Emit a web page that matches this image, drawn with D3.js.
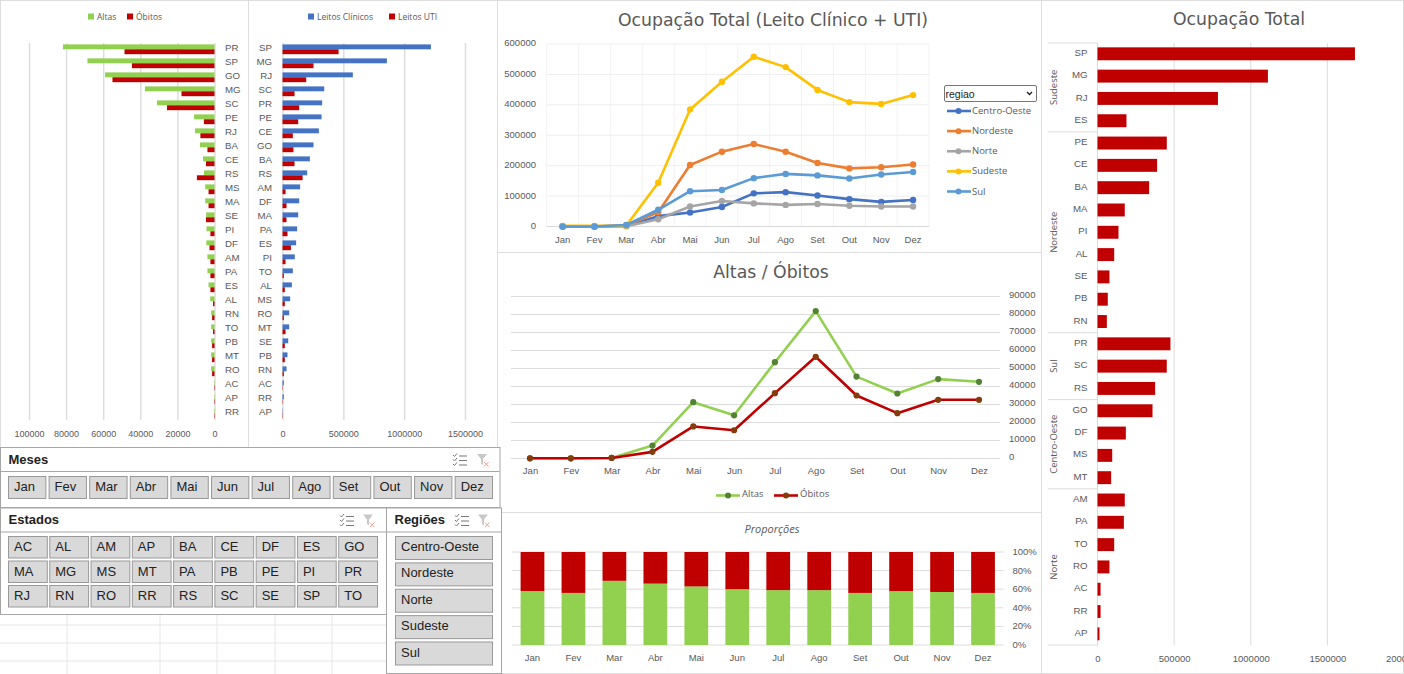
<!DOCTYPE html>
<html>
<head>
<meta charset="utf-8">
<script src="https://cdn.jsdelivr.net/npm/d3@7"></script>
<style>
    html, body { margin: 0; padding: 0; background: #fff; overflow: hidden; }
    #wrap { position: relative; width: 1404px; height: 674px; }
    svg { position: absolute; left: 0; top: 0; font-family: "Open Sans", sans-serif; }
    select {
        position: absolute; left: 943.5px; top: 85px; width: 93px; height: 17px; box-sizing: border-box;
        font: 10.5px "Liberation Sans", sans-serif; color: #222; padding: 0 0 0 1px; border: 1px solid #767676; border-radius: 2px;
        appearance: none; background: #fff url("data:image/svg+xml,%3Csvg xmlns='http://www.w3.org/2000/svg' width='7' height='5'%3E%3Cpath d='M1 1l2.5 2.5L6 1' fill='none' stroke='%23222' stroke-width='1.4'/%3E%3C/svg%3E") no-repeat right 3px center;
    }
    .domain { display: none; }
</style>
</head>
<body>
<div id="wrap"><svg id="chart" width="1404" height="674"></svg></div>
<script>
const meses = ["Jan", "Fev", "Mar", "Abr", "Mai", "Jun", "Jul", "Ago", "Set", "Out", "Nov", "Dez"];

// altas / obitos por estado
const estadosAltas = ["PR", "SP", "GO", "MG", "SC", "PE", "RJ", "BA", "CE", "RS", "MS", "MA", "SE", "PI", "DF", "AM", "PA", "ES", "AL", "RN", "TO", "PB", "MT", "RO", "AC", "AP", "RR"];
const altasEstado = [81700, 68500, 59000, 37500, 31000, 11000, 10500, 7800, 6200, 5700, 5000, 5000, 4500, 4300, 4400, 3800, 3800, 3200, 2300, 1800, 1800, 1800, 1800, 1800, 300, 300, 300];
const obitosEstado = [48500, 44500, 55000, 17800, 25600, 5700, 7600, 3800, 4600, 9500, 3200, 3200, 4600, 2200, 2700, 2200, 2200, 2200, 800, 1300, 800, 1300, 1300, 1300, 250, 250, 250];

// leitos por estado
const estadosLeitos = ["SP", "MG", "RJ", "SC", "PR", "PE", "CE", "GO", "BA", "RS", "AM", "DF", "MA", "PA", "ES", "PI", "TO", "AL", "MS", "RO", "MT", "SE", "PB", "RN", "AC", "RR", "AP"];
const leitosClinicos = [1220000, 858000, 578000, 343000, 326000, 321000, 299000, 255000, 225000, 203000, 145000, 137000, 129000, 120000, 112000, 101000, 85000, 77000, 63000, 55000, 55000, 47000, 41000, 33000, 11000, 11000, 3000];
const leitosUti = [461000, 255000, 195000, 99000, 137000, 129000, 85000, 90000, 99000, 165000, 25000, 33000, 33000, 41000, 69000, 25000, 11000, 19000, 19000, 11000, 25000, 19000, 19000, 11000, 3000, 3000, 3000];

// ocupacao mensal por regiao
const regioes = ["Centro-Oeste", "Nordeste", "Norte", "Sudeste", "Sul"];
const coresRegioes = ["#4472c4", "#ed7d31", "#a5a5a5", "#ffc000", "#5b9bd5"];
const centroOeste = [0, 0, 2000, 34000, 46000, 64000, 109000, 113000, 102000, 90000, 81000, 87000];
const nordeste = [0, 0, 4000, 47000, 202000, 246000, 271000, 246000, 209000, 191000, 195000, 204000];
const norte = [0, 0, 1000, 24000, 66000, 84000, 76000, 71000, 74000, 68000, 66000, 66000];
const sudeste = [2000, 2000, 3000, 144000, 385000, 476000, 558000, 524000, 449000, 409000, 403000, 432000];
const sul = [0, 0, 5000, 55000, 116000, 120000, 159000, 173000, 168000, 158000, 171000, 179000];

// altas / obitos por mes
const altasMes = [100, 100, 300, 7200, 31300, 24000, 53500, 81900, 45500, 36100, 44100, 42600];
const obitosMes = [100, 100, 300, 3700, 17800, 15700, 36300, 56500, 35000, 25200, 32600, 32600];

// proporcoes
const propAltas = [58, 56, 69, 66, 63, 60, 59, 59, 56, 58, 57, 56];
const propObitos = [42, 44, 31, 34, 37, 40, 41, 41, 44, 42, 43, 44];

// ocupacao total por estado, agrupada por regiao
const grupos = ["Sudeste", "Nordeste", "Sul", "Centro-Oeste", "Norte"];
const gruposEstados = [["SP", "MG", "RJ", "ES"], ["PE", "CE", "BA", "MA", "PI", "AL", "SE", "PB", "RN"], ["PR", "SC", "RS"], ["GO", "DF", "MS", "MT"], ["AM", "PA", "TO", "RO", "AC", "RR", "AP"]];
const ocupacaoEstado = [1680000, 1112000, 786000, 189000, 452000, 389000, 337000, 178000, 137000, 109000, 78000, 67000, 61000, 476000, 452000, 376000, 359000, 185000, 96000, 89000, 178000, 172000, 109000, 78000, 20000, 20000, 13000];

const estadosSlicer = ["AC", "AL", "AM", "AP", "BA", "CE", "DF", "ES", "GO", "MA", "MG", "MS", "MT", "PA", "PB", "PE", "PI", "PR", "RJ", "RN", "RO", "RR", "RS", "SC", "SE", "SP", "TO"];

const textColor = "#595959";
const gridColor = "#dcdcdc";
const verde = "#92d050";
const vermelho = "#c00000";
const azul = "#4472c4";

const svg = d3.select("#chart");

// moldura dos paineis
[[0.5, 0.5, 248, 447], [248.5, 0.5, 249, 447], [497.5, 0.5, 544, 252], [497.5, 252.5, 544, 260], [497.5, 512.5, 544, 161], [1041.5, 0.5, 362, 673]].forEach((p) => {
    svg.append("rect").attr("x", p[0]).attr("y", p[1]).attr("width", p[2]).attr("height", p[3])
        .attr("fill", "#fff").attr("stroke", "#dedede");
});

function styleAxis(g, size) {
    g.selectAll("text").style("font-size", size + "px").attr("fill", textColor);
    g.selectAll("line").remove();
}

function legendSquare(x, y, color, label) {
    svg.append("rect").attr("x", x).attr("y", y - 3).attr("width", 6).attr("height", 6).attr("fill", color);
    svg.append("text").attr("x", x + 9).attr("y", y + 3).attr("fill", textColor).style("font-size", "8.5px").text(label);
}

// --- grafico horizontal duplo, usado nos dois paineis da esquerda
function doubleBars(cats, a, b, colorA, colorB, xScale, ticks, tickFormat) {
    const y = d3.scaleBand().domain(cats).range([42.3, 420.3]).paddingInner(0.3).paddingOuter(0.15);
    const y1 = d3.scaleBand().domain([0, 1]).range([0, y.bandwidth()]);

    svg.append("g").selectAll("line").data(ticks).enter().append("line")
        .attr("x1", (d) => xScale(d) + 0.5).attr("x2", (d) => xScale(d) + 0.5)
        .attr("y1", 43).attr("y2", 420)
        .attr("stroke", gridColor).attr("stroke-width", 1.4);

    [a, b].forEach((vals, i) => {
        svg.append("g").selectAll("rect").data(vals).enter().append("rect")
            .attr("x", (d) => Math.min(xScale(d), xScale(0)))
            .attr("y", (d, j) => y(cats[j]) + y1(i))
            .attr("width", (d) => Math.abs(xScale(d) - xScale(0)))
            .attr("height", y1.bandwidth())
            .attr("fill", i === 0 ? colorA : colorB);
    });

    const gx = svg.append("g").attr("transform", "translate(0,428)")
        .call(d3.axisBottom(xScale).tickValues(ticks).tickFormat(tickFormat).tickSize(0));
    styleAxis(gx, 9);
    return y;
}

// altas x obitos
const xAltas = d3.scaleLinear().domain([0, 100000]).range([214.5, 29]);
const yAltas = doubleBars(estadosAltas, altasEstado, obitosEstado, verde, vermelho, xAltas, [0, 20000, 40000, 60000, 80000, 100000], d3.format("d"));
const gAltas = svg.append("g").attr("transform", "translate(225,-1)")
    .call(d3.axisRight(yAltas).tickSize(0).tickPadding(0));
styleAxis(gAltas, 9.7);
legendSquare(88, 16.5, verde, "Altas");
legendSquare(127, 16.5, vermelho, "Óbitos");

// leitos
const xLeitos = d3.scaleLinear().domain([0, 1500000]).range([282.5, 465]);
const yLeitos = doubleBars(estadosLeitos, leitosClinicos, leitosUti, azul, vermelho, xLeitos, [0, 500000, 1000000, 1500000], d3.format("d"));
const gLeitos = svg.append("g").attr("transform", "translate(272,-1)")
    .call(d3.axisLeft(yLeitos).tickSize(0).tickPadding(0));
styleAxis(gLeitos, 9.7);
legendSquare(308, 16.5, azul, "Leitos Clínicos");
legendSquare(389, 16.5, vermelho, "Leitos UTI");

// --- ocupacao total por regiao (linhas)
svg.append("text").attr("x", 773).attr("y", 26).attr("text-anchor", "middle").attr("fill", textColor)
    .style("font-family", "DejaVu Sans").style("font-size", "17.3px").text("Ocupação Total (Leito Clínico + UTI)");

const xOcup = d3.scaleBand().domain(meses).range([546.7, 929]);
const yOcup = d3.scaleLinear().domain([0, 600000]).range([226.5, 44]);

svg.append("g").selectAll("line").data(d3.range(0, 13)).enter().append("line")
    .attr("x1", (d) => 546.7 + d * xOcup.step()).attr("x2", (d) => 546.7 + d * xOcup.step())
    .attr("y1", 44).attr("y2", 226.5).attr("stroke", "#f3f3f3");
svg.append("g").selectAll("line").data(yOcup.ticks(6)).enter().append("line")
    .attr("x1", 546.7).attr("x2", 929)
    .attr("y1", (d) => yOcup(d)).attr("y2", (d) => yOcup(d))
    .attr("stroke", (d) => d === 0 ? "#d9d9d9" : "#eeeeee");

const gOcupY = svg.append("g").attr("transform", "translate(536,1)")
    .call(d3.axisLeft(yOcup).ticks(6).tickFormat(d3.format("d")).tickSize(0).tickPadding(0));
styleAxis(gOcupY, 9.5);
gOcupY.selectAll("text").attr("dy", "0.1em");
const gOcupX = svg.append("g").attr("transform", "translate(0,236)")
    .call(d3.axisBottom(xOcup).tickSize(0).tickPadding(0));
styleAxis(gOcupX, 9.5);

const lineOcup = d3.line().x((d, i) => xOcup(meses[i]) + xOcup.bandwidth() / 2).y((d) => yOcup(d));
[centroOeste, nordeste, norte, sudeste, sul].forEach((serie, i) => {
    svg.append("path").attr("d", lineOcup(serie)).attr("fill", "none")
        .attr("stroke", coresRegioes[i]).attr("stroke-width", 2.6).attr("stroke-linejoin", "round");
    svg.append("g").selectAll("circle").data(serie).enter().append("circle")
        .attr("cx", (d, j) => xOcup(meses[j]) + xOcup.bandwidth() / 2)
        .attr("cy", (d) => yOcup(d)).attr("r", 3.2).attr("fill", coresRegioes[i]);
});

// legenda das regioes
const legendaY = d3.scalePoint().domain(regioes).range([111, 191.5]);
regioes.forEach((r, i) => {
    const ly = legendaY(r);
    svg.append("line").attr("x1", 947).attr("x2", 971).attr("y1", ly).attr("y2", ly)
        .attr("stroke", coresRegioes[i]).attr("stroke-width", 2.6);
    svg.append("circle").attr("cx", 958.5).attr("cy", ly).attr("r", 3).attr("fill", coresRegioes[i]);
    svg.append("text").attr("x", 972).attr("y", ly + 3).attr("fill", textColor).style("font-size", "9.5px").text(r);
});

d3.select("#wrap").append("select").append("option").text("regiao");

// --- altas / obitos por mes
svg.append("text").attr("x", 771).attr("y", 278).attr("text-anchor", "middle").attr("fill", textColor)
    .style("font-family", "DejaVu Sans").style("font-size", "17.3px").text("Altas / Óbitos");

const xMes = d3.scalePoint().domain(meses).range([530, 979]);
const yMes = d3.scaleLinear().domain([0, 90000]).range([458.5, 296.5]);

svg.append("g").selectAll("line").data(yMes.ticks(9)).enter().append("line")
    .attr("x1", 511).attr("x2", 1000)
    .attr("y1", (d) => yMes(d)).attr("y2", (d) => yMes(d))
    .attr("stroke", gridColor);

const gMesY = svg.append("g").attr("transform", "translate(1009,0)")
    .call(d3.axisRight(yMes).ticks(9).tickFormat(d3.format("d")).tickSize(0).tickPadding(0));
styleAxis(gMesY, 9.5);
gMesY.selectAll("text").attr("dy", "0.1em");
const gMesX = svg.append("g").attr("transform", "translate(0,467)")
    .call(d3.axisBottom(xMes).tickSize(0).tickPadding(0));
styleAxis(gMesX, 9.5);

const lineMes = d3.line().x((d, i) => xMes(meses[i])).y((d) => yMes(d));
[[altasMes, verde, "#548235"], [obitosMes, vermelho, "#843c0c"]].forEach((s) => {
    svg.append("path").attr("d", lineMes(s[0])).attr("fill", "none")
        .attr("stroke", s[1]).attr("stroke-width", 2.6).attr("stroke-linejoin", "round");
    svg.append("g").selectAll("circle").data(s[0]).enter().append("circle")
        .attr("cx", (d, j) => xMes(meses[j])).attr("cy", (d) => yMes(d))
        .attr("r", 3.1).attr("fill", s[2]);
});

[[716, "Altas", verde, "#548235"], [774, "Óbitos", vermelho, "#843c0c"]].forEach((l) => {
    svg.append("line").attr("x1", l[0]).attr("x2", l[0] + 24).attr("y1", 495.5).attr("y2", 495.5)
        .attr("stroke", l[2]).attr("stroke-width", 2.6);
    svg.append("circle").attr("cx", l[0] + 12).attr("cy", 495.5).attr("r", 3).attr("fill", l[3]);
    svg.append("text").attr("x", l[0] + 26).attr("y", 497).attr("fill", textColor).style("font-size", "9.5px").text(l[1]);
});

// --- proporcoes
svg.append("text").attr("x", 772).attr("y", 533).attr("text-anchor", "middle").attr("fill", textColor)
    .style("font-size", "11px").style("font-style", "italic").text("Proporções");

const xProp = d3.scaleBand().domain(meses).range([512, 1003.5]).paddingInner(0.42).paddingOuter(0.21);
const yProp = d3.scaleLinear().domain([0, 100]).range([645, 552]);

svg.append("g").selectAll("line").data(yProp.ticks(5)).enter().append("line")
    .attr("x1", 512).attr("x2", 1003.5)
    .attr("y1", (d) => yProp(d)).attr("y2", (d) => yProp(d))
    .attr("stroke", gridColor);

const tabelaProp = meses.map((m, i) => ({ mes: m, altas: propAltas[i], obitos: propObitos[i] }));
const stackProp = d3.stack().keys(["altas", "obitos"])(tabelaProp);
stackProp.forEach((camada, i) => {
    svg.append("g").selectAll("rect").data(camada).enter().append("rect")
        .attr("x", (d) => xProp(d.data.mes))
        .attr("y", (d) => yProp(d[1]))
        .attr("width", xProp.bandwidth())
        .attr("height", (d) => yProp(d[0]) - yProp(d[1]))
        .attr("fill", i === 0 ? verde : vermelho);
});

const gPropY = svg.append("g").attr("transform", "translate(1012.5,1.5)")
    .call(d3.axisRight(yProp).ticks(5).tickFormat((d) => d + "%").tickSize(0).tickPadding(0));
styleAxis(gPropY, 9.5);
gPropY.selectAll("text").attr("dy", "0.1em");
const gPropX = svg.append("g").attr("transform", "translate(0,654.5)")
    .call(d3.axisBottom(xProp).tickSize(0).tickPadding(0));
styleAxis(gPropX, 9.5);

// --- ocupacao total por estado
svg.append("text").attr("x", 1239).attr("y", 24.5).attr("text-anchor", "middle").attr("fill", textColor)
    .style("font-family", "DejaVu Sans").style("font-size", "17.3px").text("Ocupação Total");

const estadosTotal = gruposEstados.flat();
const xTotal = d3.scaleLinear().domain([0, 2000000]).range([1097.5, 1404]);
const yTotal = d3.scaleBand().domain(estadosTotal).range([42.65, 645]).paddingInner(0.42).paddingOuter(0.21);

svg.append("g").selectAll("line").data(xTotal.ticks(4)).enter().append("line")
    .attr("x1", (d) => xTotal(d)).attr("x2", (d) => xTotal(d))
    .attr("y1", 43).attr("y2", 645.5).attr("stroke", gridColor);

svg.append("g").selectAll("rect").data(ocupacaoEstado).enter().append("rect")
    .attr("x", xTotal(0))
    .attr("y", (d, i) => yTotal(estadosTotal[i]))
    .attr("width", (d) => xTotal(d) - xTotal(0))
    .attr("height", yTotal.bandwidth())
    .attr("fill", vermelho);

const gTotalY = svg.append("g").attr("transform", "translate(1087.5,-1)")
    .call(d3.axisLeft(yTotal).tickSize(0).tickPadding(0));
styleAxis(gTotalY, 9.7);
const gTotalX = svg.append("g").attr("transform", "translate(0,655)")
    .call(d3.axisBottom(xTotal).ticks(4).tickFormat(d3.format("d")).tickSize(0).tickPadding(0));
styleAxis(gTotalX, 9.5);

// grupos de regiao: separadores e rotulos giratorios
let acumulado = 0;
const stepTotal = yTotal.step();
svg.append("line").attr("x1", 1048).attr("x2", 1097.5).attr("y1", 43).attr("y2", 43).attr("stroke", gridColor);
grupos.forEach((g, i) => {
    const n = gruposEstados[i].length;
    const topo = 42.65 + acumulado * stepTotal;
    const base = 42.65 + (acumulado + n) * stepTotal;
    svg.append("line").attr("x1", 1048).attr("x2", 1097.5).attr("y1", base).attr("y2", base).attr("stroke", gridColor);
    svg.append("text").attr("transform", `translate(1057,${(topo + base) / 2}) rotate(-90)`)
        .attr("text-anchor", "middle").attr("fill", textColor).style("font-size", "9.5px").text(g);
    acumulado += n;
});

// --- slicers
const grade = [67, 160, 217, 275, 332];
grade.forEach((x) => {
    svg.append("line").attr("x1", x).attr("x2", x).attr("y1", 614).attr("y2", 674).attr("stroke", "#e6e6e6");
});
[625, 643, 661].forEach((y) => {
    svg.append("line").attr("x1", 0).attr("x2", 386).attr("y1", y).attr("y2", y).attr("stroke", "#e6e6e6");
});

function slicerPanel(x, y, w, h, headerH, title, iconX, clearX) {
    svg.append("rect").attr("x", x + 0.5).attr("y", y + 0.5).attr("width", w).attr("height", h)
        .attr("fill", "#fff").attr("stroke", "#a6a6a6");
    svg.append("line").attr("x1", x).attr("x2", x + w).attr("y1", y + headerH + 0.5).attr("y2", y + headerH + 0.5).attr("stroke", "#a6a6a6");
    svg.append("text").attr("x", x + 8.5).attr("y", y + 16.5).attr("fill", "#222")
        .style("font-family", "Liberation Sans").style("font-weight", "bold").style("font-size", "13px").text(title);

    // icone multi selecao
    const ic = svg.append("g").attr("transform", `translate(${iconX},${y + 7})`).attr("fill", "none").attr("stroke", "#777").attr("stroke-width", 1);
    [2, 6.5, 11].forEach((ly) => {
        ic.append("path").attr("d", `M0 ${ly - 1}l1.5 1.5l2.5 -3`);
        ic.append("line").attr("x1", 6).attr("x2", 14).attr("y1", ly).attr("y2", ly);
    });
    // icone limpar filtro
    const cl = svg.append("g").attr("transform", `translate(${clearX},${y + 7})`);
    cl.append("path").attr("d", "M0 0h10l-4 5v6l-2 -1.5v-4.5z").attr("fill", "#c8c8c8");
    cl.append("path").attr("d", "M7 8l4.5 4.5M11.5 8l-4.5 4.5").attr("stroke", "#f0a090").attr("stroke-width", 1);
}

function slicerButton(x, y, w, h, label) {
    svg.append("rect").attr("x", x + 0.5).attr("y", y + 0.5).attr("width", w).attr("height", h)
        .attr("fill", "#d9d9d9").attr("stroke", "#999");
    svg.append("text").attr("x", x + 6).attr("y", y + 15).attr("fill", "#222")
        .style("font-family", "Liberation Sans").style("font-size", "13px").text(label);
}

slicerPanel(0, 447, 499.5, 60, 24, "Meses", 453, 477);
const xBotaoMes = d3.scaleBand().domain(meses).range([8, 492]).paddingInner(0.08);
meses.forEach((m) => slicerButton(xBotaoMes(m), 476, xBotaoMes.bandwidth(), 22, m));

slicerPanel(0, 507.5, 386, 106.5, 24, "Estados", 340, 363);
const xBotaoEstado = d3.scaleBand().domain(d3.range(9)).range([8, 377]).paddingInner(0.06);
const linhasEstado = [536, 560.5, 585];
estadosSlicer.forEach((e, i) => slicerButton(xBotaoEstado(i % 9), linhasEstado[Math.floor(i / 9)], xBotaoEstado.bandwidth(), 21.5, e));

slicerPanel(386, 507.5, 115, 165.5, 24, "Regiões", 455, 478);
const yBotaoRegiao = d3.scalePoint().domain(regioes).range([536, 641.5]);
regioes.forEach((r) => slicerButton(395, yBotaoRegiao(r), 97, 23, r));
</script>
</body>
</html>
